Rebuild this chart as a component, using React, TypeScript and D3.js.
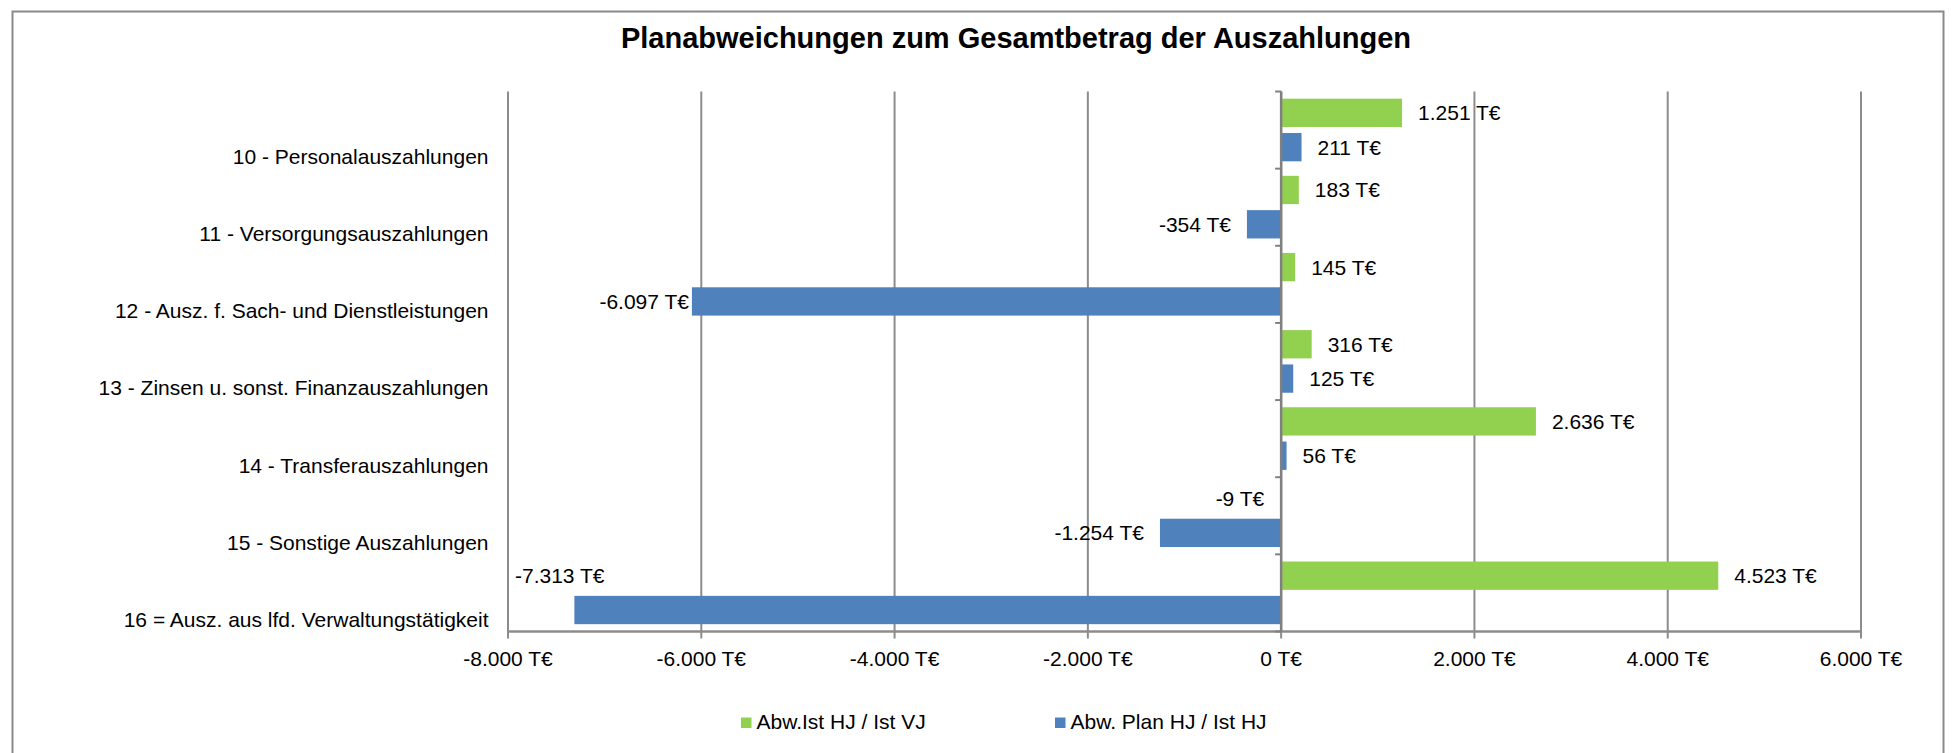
import * as d3 from "d3"

const categories = [
  "10 - Personalauszahlungen",
  "11 - Versorgungsauszahlungen",
  "12 - Ausz. f. Sach- und Dienstleistungen",
  "13 - Zinsen u. sonst. Finanzauszahlungen",
  "14 - Transferauszahlungen",
  "15 - Sonstige Auszahlungen",
  "16 = Ausz. aus lfd. Verwaltungstätigkeit",
]

// Abw.Ist HJ / Ist VJ (green, upper bar)
const abwIstVJ = [1251, 183, 145, 316, 2636, -9, 4523]
// Abw. Plan HJ / Ist HJ (blue, lower bar)
const abwPlanHJ = [211, -354, -6097, 125, 56, -1254, -7313]

const xTicks = [-8000, -6000, -4000, -2000, 0, 2000, 4000, 6000]

const seriesNames = ["Abw.Ist HJ / Ist VJ", "Abw. Plan HJ / Ist HJ"]
const colors = ["#92D050", "#4F81BD"]

const title = "Planabweichungen zum Gesamtbetrag der Auszahlungen"

const de = d3.formatLocale({ decimal: ",", thousands: ".", grouping: [3], currency: ["", "€"], minus: "-" })
const fmt = (v: number) => de.format(",.0f")(v) + " T€"

const FONT = "'Liberation Sans', Arial, sans-serif"
const W = 1957
const H = 753

export default function App() {
  const plot = { left: 508, right: 1861, top: 91.5, bottom: 631.5 }

  const x = d3.scaleLinear().domain([-8000, 6000]).range([plot.left, plot.right])
  const y = d3.scaleBand().domain(categories).range([plot.top, plot.bottom]).padding(0)
  const bw = y.bandwidth()

  const barH = bw * 0.367
  const offsets = [bw * 0.093, bw * 0.538]
  const grey = "#8c8c8c"

  const series = [abwIstVJ, abwPlanHJ]

  const boundaries = d3.range(categories.length + 1).map((i) => plot.top + i * bw)

  return (
    <svg
      width={W}
      height={H}
      style={{ position: "absolute", left: 0, top: 0, background: "#fff" }}
      fontFamily={FONT}
    >
      <rect x={0} y={0} width={W} height={H} fill="#fff" />
      {/* outer chart frame */}
      <rect x={12.5} y={11.5} width={1931} height={800} fill="none" stroke="#8a8a8a" strokeWidth={2} />

      <text x={1016} y={47.5} textAnchor="middle" fontSize={29} fontWeight="bold" fill="#000">
        {title}
      </text>

      {/* vertical gridlines */}
      {xTicks.map((t) => (
        <line key={t} x1={x(t)} x2={x(t)} y1={plot.top} y2={plot.bottom + 7} stroke={grey} strokeWidth={2} />
      ))}

      {/* bottom axis */}
      <line x1={plot.left} x2={plot.right} y1={plot.bottom} y2={plot.bottom} stroke={grey} strokeWidth={2.5} />
      {xTicks.map((t) => (
        <text key={"l" + t} x={x(t)} y={665.5} textAnchor="middle" fontSize={21} fill="#000">
          {fmt(t)}
        </text>
      ))}

      {/* bars */}
      {categories.map((c, i) =>
        series.map((s, k) => {
          const v = s[i]
          const x0 = x(Math.min(0, v))
          const w = Math.abs(x(v) - x(0))
          return (
            <rect
              key={c + k}
              x={x0}
              y={(y(c) as number) + offsets[k]}
              width={w}
              height={barH}
              fill={colors[k]}
            />
          )
        })
      )}

      {/* category axis at zero */}
      <line x1={x(0)} x2={x(0)} y1={plot.top} y2={plot.bottom} stroke="#808080" strokeWidth={2.5} />
      {boundaries.map((b, i) => (
        <line key={"t" + i} x1={x(0) - 6} x2={x(0)} y1={b} y2={b} stroke="#808080" strokeWidth={2} />
      ))}

      {/* category labels */}
      {categories.map((c) => (
        <text key={"c" + c} x={488.5} y={(y(c) as number) + bw * 0.94} textAnchor="end" fontSize={21} fill="#000">
          {c}
        </text>
      ))}

      {/* data labels */}
      {categories.map((c, i) =>
        series.map((s, k) => {
          const v = s[i]
          const label = fmt(v)
          const cy = (y(c) as number) + offsets[k] + barH / 2
          const approxW = label.length * 11.5
          if (v < 0 && x(v) - 16 - approxW < plot.left) {
            // no room left of the bar: label sits inside the plot, above the bar
            return (
              <text key={"d" + c + k} x={plot.left + 7} y={cy - bw * 0.45 + 7.5} fontSize={21} fill="#000">
                {label}
              </text>
            )
          }
          const gap = v < 0 && x(v) - plot.left < 200 ? 3 : 16
          return (
            <text
              key={"d" + c + k}
              x={v < 0 ? x(v) - gap : x(v) + 16}
              y={cy + 7.5}
              textAnchor={v < 0 ? "end" : "start"}
              fontSize={21}
              fill="#000"
            >
              {label}
            </text>
          )
        })
      )}

      {/* legend */}
      {seriesNames.map((n, k) => {
        const lx = [741, 1055][k]
        return (
          <g key={n}>
            <rect x={lx} y={717.5} width={10.5} height={10.5} fill={colors[k]} />
            <text x={lx + 15.5} y={728.7} fontSize={21} fill="#000">
              {n}
            </text>
          </g>
        )
      })}
    </svg>
  )
}
